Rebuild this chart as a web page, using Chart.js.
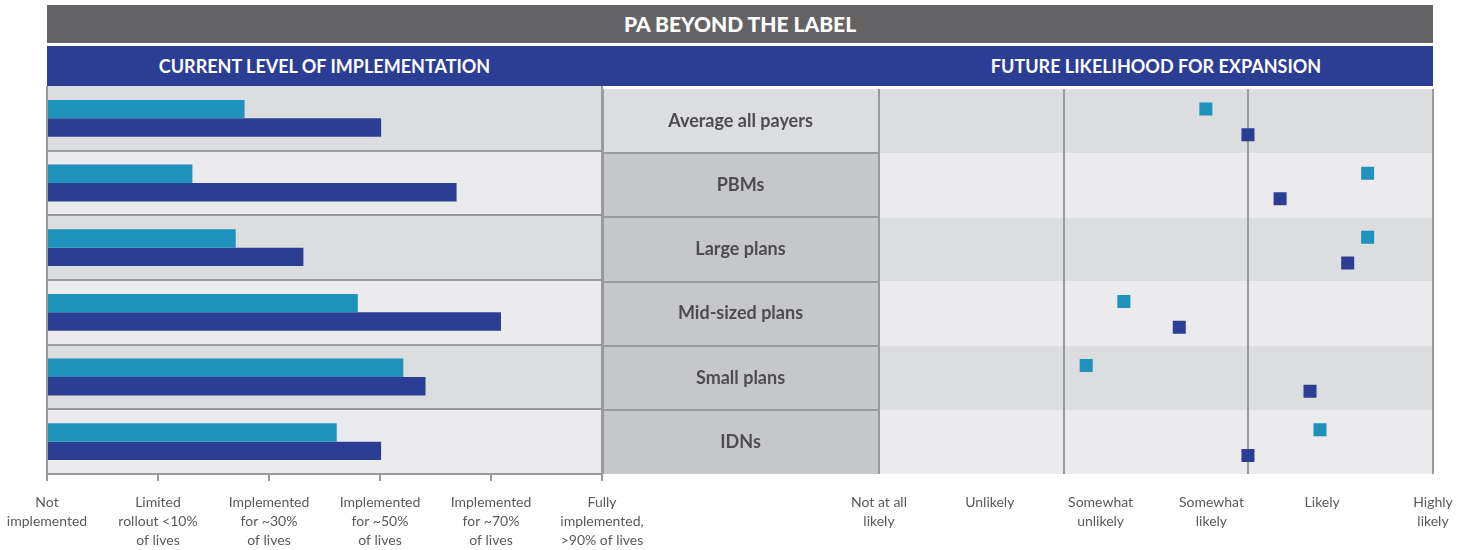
<!DOCTYPE html>
<html>
<head>
<meta charset="utf-8">
<script src="https://cdn.jsdelivr.net/npm/chart.js@4.4.1/dist/chart.umd.min.js"></script>
<style>
body{margin:0;background:#fff;font-family:Lato,sans-serif;}
#wrap{position:relative;width:1470px;height:550px;overflow:hidden;}
.strip{position:absolute;left:47px;width:1386px;color:#fff;font-weight:bold;}
#title{top:5px;height:38px;line-height:38px;background:#636365;font-size:21px;font-weight:900;text-align:center;}
#band{top:46px;height:40px;line-height:40px;background:#2c3e94;font-size:18px;}
#band span{position:absolute;top:0;text-align:center;}
#left{position:absolute;left:-20px;top:80px;}
#right{position:absolute;left:602px;top:80px;}
</style>
</head>
<body>
<div id="wrap">
  <div class="strip" id="title">PA BEYOND THE LABEL</div>
  <div class="strip" id="band">
    <span style="left:0;width:555px">CURRENT LEVEL OF IMPLEMENTATION</span>
    <span style="left:832px;width:554px">FUTURE LIKELIHOOD FOR EXPANSION</span>
  </div>
  <canvas id="left" width="680" height="470"></canvas>
  <canvas id="right" width="880" height="470"></canvas>
</div>
<script>
// payer segments (rows, top to bottom)
const categories = ['Average all payers', 'PBMs', 'Large plans', 'Mid-sized plans', 'Small plans', 'IDNs']

// current level of implementation, 0 = not implemented .. 5 = fully implemented
const currentTeal = [1.78, 1.31, 1.70, 2.80, 3.21, 2.61]
const currentNavy = [3.01, 3.69, 2.31, 4.09, 3.41, 3.01]

// future likelihood for expansion, 0 = not at all likely .. 5 = highly likely
const futureTeal = [2.95, 4.41, 4.41, 2.21, 1.87, 3.98]
const futureNavy = [3.33, 3.62, 4.23, 2.71, 3.89, 3.33]

const implTicks = [
  ['Not', 'implemented'],
  ['Limited', 'rollout <10%', 'of lives'],
  ['Implemented', 'for ~30%', 'of lives'],
  ['Implemented', 'for ~50%', 'of lives'],
  ['Implemented', 'for ~70%', 'of lives'],
  ['Fully', 'implemented,', '>90% of lives']
]
const likeTicks = [
  ['Not at all', 'likely'],
  'Unlikely',
  ['Somewhat', 'unlikely'],
  ['Somewhat', 'likely'],
  'Likely',
  ['Highly', 'likely']
]

const TEAL = '#1e92bd'
const NAVY = '#2c3e94'
const LINE = '#999a9c'
const LABEL_W = 277

Chart.defaults.font.family = 'Lato'

// striped row backgrounds behind both panels
const rowBands = {
  id: 'rowBands',
  beforeDraw(chart, args, opts) {
    const {ctx, chartArea: a, scales: {y}} = chart
    const n = categories.length
    const h = a.height / n
    ctx.save()
    categories.forEach((c, i) => {
      const mid = y.getPixelForValue(i)
      ctx.fillStyle = i % 2 ? '#ebebed' : '#dcdddf'
      ctx.fillRect(a.left, mid - h / 2, a.width, h)
    })
    if (opts.separators) {
      ctx.strokeStyle = LINE
      ctx.lineWidth = 2
      for (let i = 1; i < n; i++) {
        const yy = Math.round(y.getPixelForValue(i) - h / 2)
        ctx.beginPath(); ctx.moveTo(a.left, yy); ctx.lineTo(a.right, yy); ctx.stroke()
      }
      ctx.beginPath(); ctx.moveTo(a.left, a.top); ctx.lineTo(a.left, a.bottom); ctx.stroke()
      ctx.beginPath(); ctx.moveTo(a.right, a.top); ctx.lineTo(a.right, a.bottom); ctx.stroke()
    }
    ctx.restore()
  }
}

// segment names column between the two panels
const labelColumn = {
  id: 'labelColumn',
  beforeDraw(chart) {
    const {ctx, chartArea: a, scales: {y}} = chart
    const n = categories.length
    const h = a.height / n
    const x0 = a.left - LABEL_W
    ctx.save()
    categories.forEach((c, i) => {
      const mid = y.getPixelForValue(i)
      ctx.fillStyle = i == 0 ? '#dcdddf' : '#c6c7c9'
      ctx.fillRect(x0, mid - h / 2, LABEL_W, h)
    })
    ctx.strokeStyle = LINE
    ctx.lineWidth = 2
    for (let i = 1; i < n; i++) {
      const yy = Math.round(y.getPixelForValue(i) - h / 2)
      ctx.beginPath(); ctx.moveTo(x0, yy); ctx.lineTo(a.left, yy); ctx.stroke()
    }
    ctx.beginPath(); ctx.moveTo(x0 + 1, a.top); ctx.lineTo(x0 + 1, a.bottom); ctx.stroke()
    ctx.fillStyle = '#4d4d4f'
    ctx.font = 'bold 18px Lato'
    ctx.textAlign = 'center'
    ctx.textBaseline = 'middle'
    categories.forEach((c, i) => {
      ctx.fillText(c, x0 + LABEL_W / 2, y.getPixelForValue(i))
    })
    ctx.restore()
  }
}

const tickFont = {family: 'Lato', size: 14, lineHeight: 1.35}

new Chart(document.getElementById('left'), {
  type: 'bar',
  data: {
    labels: categories,
    datasets: [
      {data: currentTeal, backgroundColor: TEAL},
      {data: currentNavy, backgroundColor: NAVY}
    ]
  },
  options: {
    indexAxis: 'y',
    responsive: false,
    animation: false,
    categoryPercentage: 0.57,
    barPercentage: 1,
    layout: {padding: {left: 67, right: 58, top: 6, bottom: 0}},
    plugins: {legend: {display: false}, tooltip: {enabled: false}, rowBands: {separators: true}},
    scales: {
      x: {
        min: 0, max: 5,
        afterFit: s => { s.height = 76 },
        ticks: {stepSize: 1, autoSkip: false, maxRotation: 0, padding: 12, color: '#58595b', font: tickFont,
          callback: v => implTicks[v]},
        grid: {drawOnChartArea: false, tickLength: 7, color: LINE, lineWidth: 2},
        border: {color: LINE, width: 2}
      },
      y: {display: false}
    }
  },
  plugins: [rowBands]
})

new Chart(document.getElementById('right'), {
  type: 'scatter',
  data: {
    datasets: [
      {data: futureTeal.map((v, i) => ({x: v, y: i - 0.19})), backgroundColor: TEAL},
      {data: futureNavy.map((v, i) => ({x: v, y: i + 0.21})), backgroundColor: NAVY}
    ]
  },
  options: {
    responsive: false,
    animation: false,
    elements: {point: {pointStyle: 'rect', radius: 9.2, borderWidth: 0}},
    layout: {padding: {left: LABEL_W, right: 49, top: 6, bottom: 0}},
    plugins: {legend: {display: false}, tooltip: {enabled: false}, rowBands: {separators: false}},
    scales: {
      x: {
        type: 'linear', min: 0, max: 5,
        afterFit: s => { s.height = 76 },
        ticks: {stepSize: 1, autoSkip: false, maxRotation: 0, padding: 19, color: '#58595b', font: tickFont,
          callback: v => likeTicks[v]},
        grid: {display: false, drawTicks: false},
        border: {display: false}
      },
      xg: {
        type: 'linear', position: 'top', min: 0, max: 3,
        afterFit: s => { s.height = 0 },
        ticks: {display: false, stepSize: 1},
        grid: {color: LINE, lineWidth: 2, drawTicks: false},
        border: {display: false}
      },
      y: {type: 'linear', min: -0.5, max: 5.5, reverse: true, display: false}
    }
  },
  plugins: [rowBands, labelColumn]
})
</script>
</body>
</html>
